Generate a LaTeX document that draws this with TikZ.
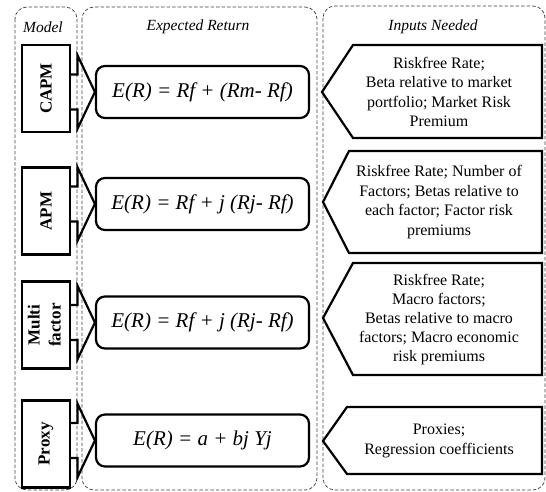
\documentclass[tikz,border=0pt]{standalone}
\usepackage{fontspec}
\usepackage{graphicx}
\setmainfont{Liberation Serif}
\usetikzlibrary{calc}
\tikzset{
  container/.style={draw=black!75, dash pattern=on 3.5pt off 2pt, line width=0.7pt, rounded corners=12pt},
  modelbox/.style={draw, line width=2.2pt, minimum width=48pt, minimum height=87pt, inner sep=0pt,
    font=\fontsize{17}{21}\selectfont\bfseries},
  eqbox/.style={draw, line width=2.2pt, rounded corners=9pt, minimum width=213pt, minimum height=52pt,
    inner sep=0pt, font=\fontsize{21}{25}\selectfont\itshape},
  inputtext/.style={align=center, inner sep=0pt, font=\fontsize{16}{19.5}\selectfont},
  inputshape/.style={line width=2.2pt, line join=miter},
  arr/.style={line width=2.2pt, line join=miter},
  coltitle/.style={inner sep=0pt, font=\fontsize{15.5}{18}\selectfont\itshape}
}
\newcommand\inpent[5]{\draw[inputshape] (542,#1) -- (542,#2) -- (#3,#2) -- (#4,#5) -- (#3,#1) -- cycle;}
\newcommand\modelarrow[2]{%
  \coordinate (a#1) at (#1.east |- #2.west);
  \draw[arr] ($(a#1)+(0,-17.5)$) -| ($(#2.west)+(-17.5,-37)$) -- (#2.west)
    -- ($(#2.west)+(-17.5,37)$) |- ($(a#1)+(0,17.5)$);}
\begin{document}
\begin{tikzpicture}[x=1pt,y=-1pt]
\useasboundingbox (0,0) rectangle (546,492);
% containers
\draw[container] (15,7) rectangle (77,490);
\draw[container] (82,7) rectangle (317,490);
\draw[container] (323,6) rectangle (545,490);
% titles
\node[coltitle] (tm) at (43,27) {Model};
\node[coltitle] (te) at (198,27) {Expected Return};
\node[coltitle] (ti) at (433,27) {Inputs Needed};
% model boxes
\node[modelbox] (m1) at (46,88.5) {\rotatebox{90}{CAPM}};
\node[modelbox] (m2) at (46,211) {\rotatebox{90}{APM}};
\node[modelbox] (m3) at (46,325) {\rotatebox{90}{\begin{tabular}{@{}c@{}}Multi\\factor\end{tabular}}};
\node[modelbox] (m4) at (46,444) {\rotatebox{90}{Proxy}};
% equation boxes
\node[eqbox] (e1) at (202.5,92) {E(R) = Rf + (Rm- Rf)};
\node[eqbox] (e2) at (202.5,204) {E(R) = Rf + j (Rj- Rf)};
\node[eqbox] (e3) at (202.5,322.5) {E(R) = Rf + j (Rj- Rf)};
\node[eqbox] (e4) at (202.5,440.5) {E(R) = a + bj Yj};
% arrows
\modelarrow{m1}{e1}
\modelarrow{m2}{e2}
\modelarrow{m3}{e3}
\modelarrow{m4}{e4}
% inputs
\inpent{45}{138}{353}{322}{92}
\inpent{151}{253}{349}{323}{202}
\inpent{263}{375}{353}{323}{318}
\inpent{407}{474}{347}{323}{441}
\node[inputtext] (i1) at (439,92) {Riskfree Rate;\\ Beta relative to market\\ portfolio; Market Risk\\ Premium};
\node[inputtext] (i2) at (439,202) {Riskfree Rate; Number of\\ Factors; Betas relative to\\ each factor; Factor risk\\ premiums};
\node[inputtext, font=\fontsize{16}{19}\selectfont] (i3) at (439,319.5) {Riskfree Rate;\\ Macro factors;\\ Betas relative to macro\\ factors; Macro economic\\ risk premiums};
\node[inputtext] (i4) at (439,441) {Proxies;\\ Regression coefficients};
\end{tikzpicture}
\end{document}
